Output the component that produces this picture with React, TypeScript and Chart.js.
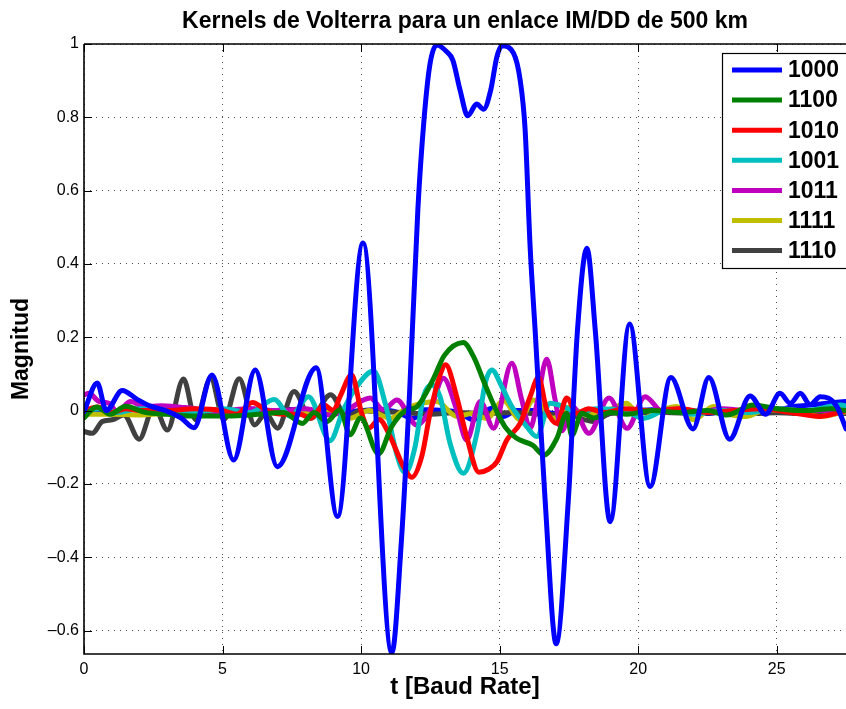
import React, { useEffect, useRef } from "react";
import { Chart, registerables } from "chart.js";

Chart.register(...registerables);

const FONT = '"Liberation Sans", Arial, Helvetica, sans-serif';
const TITLE = "Kernels de Volterra para un enlace IM/DD de 500 km";
const X_LABEL = "t [Baud Rate]";
const Y_LABEL = "Magnitud";

const xTicks = [0, 5, 10, 15, 20, 25];
const yTicks = [-0.6, -0.4, -0.2, 0, 0.2, 0.4, 0.6, 0.8, 1];

const seriesNames = ["1000", "1100", "1010", "1001", "1011", "1111", "1110"];
const seriesColors = ["#0000ff", "#008000", "#ff0000", "#00bfbf", "#bf00bf", "#bfbf00", "#404040"];

// 1000 (blue)
const t1000 = [0, 0.48, 0.8, 1.38, 1.93, 2.4, 2.95, 3.5, 3.97, 4.62, 5.4, 6.18, 6.98, 8.38, 9.15, 10.07, 11.11, 11.45, 11.75, 12.05, 12.27, 12.49, 12.73, 13.09, 13.31, 13.57, 13.85, 14.17, 14.42, 14.68, 14.9, 15.08, 15.5, 15.74, 15.92, 16.1, 16.28, 16.64, 17.04, 17.48, 17.81, 18.15, 18.45, 18.99, 19.69, 20.43, 21.18, 21.98, 22.55, 23.3, 24.04, 24.6, 25.12, 25.49, 25.85, 26.21, 26.57, 26.87, 27.17, 27.5];
const y1000 = [-0.003, 0.075, 0.0, 0.055, 0.03, 0.012, 0.0, -0.02, -0.047, 0.097, -0.135, 0.111, -0.153, 0.117, -0.289, 0.457, -0.661, -0.36, 0.05, 0.55, 0.793, 0.947, 0.997, 0.979, 0.956, 0.875, 0.804, 0.836, 0.822, 0.875, 0.965, 0.995, 0.975, 0.902, 0.766, 0.447, 0.22, -0.243, -0.636, -0.243, 0.22, 0.443, 0.22, -0.303, 0.236, -0.207, 0.09, -0.05, 0.09, -0.078, 0.04, -0.01, 0.047, 0.02, 0.047, 0.016, 0.038, 0.034, 0.011, -0.05];

// 1100 (green)
const t1100 = [0, 0.45, 0.95, 1.5, 2.2, 3.0, 4.0, 5.2, 6.3, 7.2, 7.88, 8.3, 8.76, 9.24, 9.6, 9.98, 10.63, 11.1, 11.6, 12.0, 12.6, 13.0, 13.69, 14.06, 14.45, 14.85, 15.2, 15.6, 16.2, 16.6, 17.07, 17.42, 17.6, 17.97, 18.4, 19.0, 19.6, 20.5, 21.5, 22.5, 23.2, 24.16, 25.0, 26.0, 27.0, 27.5];
const y1100 = [-0.02, 0.01, -0.01, 0.012, -0.005, -0.01, -0.015, -0.015, -0.01, -0.005, -0.035, -0.005, -0.03, 0.002, -0.066, -0.02, -0.118, -0.044, 0.0, 0.01, 0.085, 0.15, 0.186, 0.147, 0.075, 0.005, -0.045, -0.075, -0.095, -0.121, -0.075, -0.007, -0.068, -0.007, -0.02, -0.005, -0.01, 0.0, -0.005, 0.0, -0.012, 0.015, 0.005, 0.0, 0.005, 0.0];

// 1010 (red)
const t1010 = [0, 0.5, 1.0, 1.5, 2.0, 3.0, 4.0, 5.0, 5.5, 6.08, 6.6, 7.2, 7.8, 8.18, 8.66, 9.0, 9.24, 9.66, 10.02, 10.28, 10.65, 11.05, 11.53, 11.83, 12.19, 12.49, 12.85, 13.05, 13.45, 13.81, 14.25, 14.6, 14.9, 15.26, 15.74, 16.1, 16.4, 16.7, 17.07, 17.42, 17.79, 18.2, 18.8, 19.5, 20.5, 21.5, 22.5, 23.5, 24.5, 25.5, 26.57, 27.5];
const y1010 = [0.0, 0.01, -0.005, 0.005, 0.0, 0.0, 0.005, 0.0, -0.01, 0.022, 0.0, -0.01, -0.01, -0.021, 0.015, 0.0, 0.038, 0.097, -0.007, -0.048, -0.024, -0.071, -0.153, -0.182, -0.125, -0.007, 0.097, 0.125, 0.038, -0.071, -0.168, -0.16, -0.14, -0.08, -0.035, 0.038, 0.09, 0.002, -0.035, 0.034, -0.007, 0.005, -0.005, 0.005, 0.0, 0.005, -0.005, 0.0, 0.005, -0.005, -0.016, 0.0];

// 1001 (cyan)
const t1001 = [0, 0.6, 1.2, 2.0, 3.0, 4.0, 5.0, 6.0, 6.86, 7.46, 8.1, 8.88, 9.36, 9.84, 10.45, 10.87, 11.29, 11.59, 11.95, 12.25, 12.55, 12.85, 13.21, 13.69, 14.18, 14.48, 14.72, 15.08, 15.44, 15.98, 16.34, 16.82, 17.31, 17.8, 18.5, 19.5, 20.19, 21.0, 22.0, 23.0, 24.0, 25.0, 26.0, 27.33, 27.5];
const y1001 = [0.0, 0.005, -0.005, 0.005, 0.0, -0.005, 0.005, -0.005, 0.03, -0.016, 0.038, -0.082, 0.002, 0.065, 0.108, 0.02, -0.12, -0.17, -0.098, 0.038, 0.07, 0.038, -0.089, -0.171, -0.062, 0.075, 0.111, 0.065, 0.011, -0.044, -0.071, 0.02, 0.011, -0.005, 0.005, 0.0, -0.021, 0.0, -0.01, 0.0, -0.005, 0.005, 0.0, 0.015, 0.012];

// 1011 (magenta)
const t1011 = [0, 0.18, 0.54, 0.9, 1.2, 1.68, 2.17, 2.77, 3.49, 4.0, 4.57, 5.2, 6.0, 7.0, 8.0, 8.88, 9.48, 10.33, 10.81, 11.29, 12.01, 12.49, 12.97, 13.45, 13.81, 14.3, 14.78, 15.44, 15.8, 16.1, 16.35, 16.7, 17.0, 17.25, 17.62, 18.22, 18.95, 19.6, 20.25, 20.91, 21.5, 22.2, 23.0, 24.0, 25.0, 26.0, 27.5];
const y1011 = [0.043, 0.047, 0.025, 0.02, -0.003, 0.025, 0.011, 0.013, 0.009, 0.005, -0.012, 0.0, 0.005, 0.0, 0.005, -0.012, 0.002, 0.034, 0.002, 0.029, -0.039, 0.002, 0.088, 0.002, -0.08, 0.025, -0.048, 0.129, 0.029, -0.048, 0.02, 0.14, 0.03, -0.055, 0.012, -0.062, 0.034, -0.048, 0.038, -0.005, 0.005, -0.005, 0.005, 0.0, 0.005, 0.0, 0.0];

// 1111 (yellow)
const t1111 = [0, 1, 2, 3, 4, 5, 6, 7, 8, 9, 9.6, 10.3, 11.05, 11.65, 12.73, 13.45, 14.0, 14.54, 15.14, 15.74, 16.22, 16.94, 17.5, 18.15, 18.9, 19.58, 20.13, 20.8, 21.4, 22.0, 22.72, 23.3, 23.92, 24.6, 25.5, 26.57, 27.5];
const y1111 = [-0.01, -0.01, -0.012, -0.008, -0.01, -0.005, -0.008, -0.005, -0.005, -0.005, -0.021, 0.0, -0.021, 0.007, 0.025, -0.016, -0.008, -0.021, 0.027, -0.025, 0.029, -0.021, 0.01, -0.012, 0.0, 0.02, -0.021, 0.0, 0.011, -0.025, 0.011, -0.01, -0.016, 0.002, 0.0, -0.016, -0.003];

// 1110 (dark grey)
const t1110 = [0, 0.3, 0.66, 1.02, 1.44, 1.99, 2.53, 3.01, 3.59, 4.03, 4.57, 5.05, 5.6, 6.16, 6.56, 6.98, 7.58, 8.18, 8.9, 9.48, 10.0, 10.6, 11.5, 12.5, 13.5, 14.5, 15.5, 16.5, 17.5, 18.39, 19.0, 20.0, 21.0, 22.0, 23.0, 24.0, 25.0, 26.0, 27.5];
const y1110 = [-0.057, -0.062, -0.03, -0.025, -0.012, -0.078, 0.011, -0.053, 0.086, -0.025, 0.088, -0.025, 0.087, -0.039, -0.007, -0.048, 0.052, -0.021, 0.043, -0.016, 0.0, -0.003, -0.005, -0.01, -0.005, -0.008, -0.005, -0.01, -0.012, -0.03, -0.008, -0.005, -0.005, -0.008, -0.005, -0.008, -0.006, -0.008, -0.008];

// extra blue trace (not in legend)
const tExtra = [0, 0.3, 0.7, 1.2, 1.8, 2.5, 3.2, 3.9, 4.6, 5.3, 6.0, 6.7, 7.3, 8.0, 8.6, 9.3, 10.0, 10.6, 11.2, 11.89, 12.3, 13.0, 13.5, 14.06, 14.4, 14.78, 15.14, 15.6, 16.4, 17.0, 17.5, 18.0, 18.4, 18.8, 19.3, 19.8, 20.5, 21.2, 21.9, 22.5, 23.2, 23.7, 24.2, 24.6, 25.0, 25.5, 26.2, 26.8, 27.5];
const yExtra = [0.0, -0.005, 0.005, -0.003, 0.004, -0.004, 0.004, -0.003, 0.003, -0.006, 0.004, -0.003, 0.004, -0.004, 0.005, -0.004, 0.0, 0.003, -0.002, -0.021, 0.002, 0.0, -0.005, -0.025, -0.005, 0.007, -0.016, 0.0, 0.0, -0.008, 0.0, -0.01, 0.002, -0.012, 0.005, 0.0, 0.002, -0.005, 0.0, -0.008, 0.0, -0.008, 0.01, 0.008, 0.0, 0.01, 0.015, 0.02, 0.025];

const seriesT = [t1000, t1100, t1010, t1001, t1011, t1111, t1110];
const seriesY = [y1000, y1100, y1010, y1001, y1011, y1111, y1110];

const framePlugin = {
  id: "matlabFrame",
  afterDatasetsDraw(chart: any) {
    const { ctx, chartArea } = chart;
    const { left, top, right, bottom } = chartArea;
    const xs = chart.scales.x;
    const ys = chart.scales.y;
    ctx.save();
    ctx.strokeStyle = "#000";
    ctx.lineWidth = 1.6;
    ctx.beginPath();
    ctx.moveTo(left, top);
    ctx.lineTo(right + 2, top);
    ctx.moveTo(left, top);
    ctx.lineTo(left, bottom);
    ctx.lineTo(right + 2, bottom);
    ctx.stroke();
    ctx.lineWidth = 1;
    ctx.beginPath();
    xTicks.forEach((v) => {
      const px = Math.round(xs.getPixelForValue(v)) + 0.5;
      ctx.moveTo(px, bottom);
      ctx.lineTo(px, bottom - 8);
      ctx.moveTo(px, top);
      ctx.lineTo(px, top + 8);
    });
    yTicks.forEach((v) => {
      const py = Math.round(ys.getPixelForValue(v)) + 0.5;
      ctx.moveTo(left, py);
      ctx.lineTo(left + 8, py);
    });
    ctx.stroke();
    ctx.restore();
  },
  afterDraw(chart: any) {
    const { ctx } = chart;
    const boxL = 722;
    const boxT = 53;
    const boxB = 268;
    ctx.save();
    ctx.fillStyle = "#fff";
    ctx.fillRect(boxL, boxT, 200, boxB - boxT);
    ctx.strokeStyle = "#000";
    ctx.lineWidth = 1.2;
    ctx.strokeRect(boxL + 0.5, boxT + 0.5, 200, boxB - boxT);
    ctx.font = `bold 23px ${FONT}`;
    ctx.textBaseline = "middle";
    ctx.textAlign = "left";
    seriesNames.forEach((name, i) => {
      const y = 70 + i * 30.1;
      ctx.strokeStyle = seriesColors[i];
      ctx.lineWidth = 5;
      ctx.beginPath();
      ctx.moveTo(732, y);
      ctx.lineTo(782, y);
      ctx.stroke();
      ctx.fillStyle = "#000";
      ctx.fillText(name, 788, y + 1);
    });
    ctx.restore();
  },
};

const yTickLabel = (v: number) => {
  const r = Math.round(v * 10) / 10;
  if (r === 0) return "0";
  return r < 0 ? "\u2013" + String(-r) : String(r);
};

export default function App() {
  const ref = useRef<HTMLCanvasElement | null>(null);

  useEffect(() => {
    if (!ref.current) return;
    const datasets: any[] = seriesNames.map((name, i) => ({
      label: name,
      data: seriesT[i].map((x, k) => ({ x, y: seriesY[i][k] })),
      borderColor: seriesColors[i],
      backgroundColor: seriesColors[i],
    }));
    datasets.push({
      label: "extra",
      data: tExtra.map((x, k) => ({ x, y: yExtra[k] })),
      borderColor: "#0000ff",
      backgroundColor: "#0000ff",
    });

    const chart = new Chart(ref.current, {
      type: "line",
      data: { datasets },
      plugins: [framePlugin],
      options: {
        animation: false,
        responsive: false,
        devicePixelRatio: 1,
        layout: { padding: 0 },
        elements: {
          point: { radius: 0 },
          line: {
            borderWidth: 5,
            cubicInterpolationMode: "monotone",
            borderCapStyle: "round",
            borderJoinStyle: "round",
          },
        },
        plugins: {
          legend: { display: false },
          tooltip: { enabled: false },
          title: {
            display: true,
            text: TITLE,
            fullSize: false,
            color: "#000",
            font: { family: FONT, size: 23, weight: "bold" },
            padding: { top: 7.5, bottom: 8.9 },
          },
        },
        scales: {
          x: {
            type: "linear",
            min: 0,
            max: 27.5,
            afterBuildTicks: (s: any) => {
              s.ticks = xTicks.map((v) => ({ value: v }));
            },
            afterFit: (s: any) => {
              s.height = 55;
            },
            grid: { color: "rgba(0,0,0,0.7)", lineWidth: 1, drawTicks: false },
            border: { display: false, dash: [1, 5] },
            ticks: {
              padding: 6,
              color: "#000",
              autoSkip: false,
              maxRotation: 0,
              font: { family: FONT, size: 16 },
              callback: (v: any) => String(v),
            },
            title: {
              display: true,
              text: X_LABEL,
              color: "#000",
              font: { family: FONT, size: 24, weight: "bold" },
              padding: { top: 0, bottom: 7 },
            },
          },
          y: {
            type: "linear",
            min: -0.664,
            max: 1,
            afterBuildTicks: (s: any) => {
              s.ticks = yTicks.map((v) => ({ value: v }));
            },
            afterFit: (s: any) => {
              s.width = 84;
            },
            grid: { color: "rgba(0,0,0,0.7)", lineWidth: 1, drawTicks: false },
            border: { display: false, dash: [1, 5] },
            ticks: {
              padding: 5,
              color: "#000",
              autoSkip: false,
              font: { family: FONT, size: 16 },
              callback: (v: any) => yTickLabel(Number(v)),
            },
            title: {
              display: true,
              text: Y_LABEL,
              color: "#000",
              font: { family: FONT, size: 23, weight: "bold" },
              padding: { top: 8, bottom: 0 },
            },
          },
        },
      } as any,
    });
    return () => chart.destroy();
  }, []);

  return (
    <div style={{ position: "absolute", left: 0, top: 0, width: 846, height: 709, background: "#fff" }}>
      <canvas ref={ref} width={846} height={709} style={{ width: 846, height: 709, display: "block" }} />
    </div>
  );
}
